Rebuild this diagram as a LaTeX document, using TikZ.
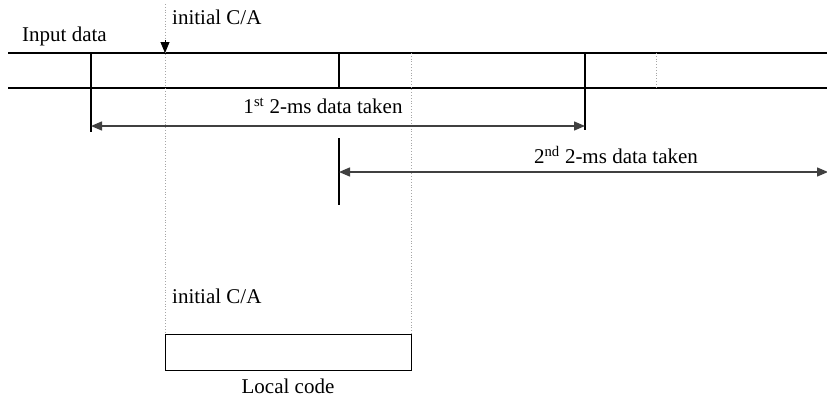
\documentclass[tikz,border=0pt]{standalone}
\usepackage{fontspec}
\setmainfont{Liberation Serif}
\usetikzlibrary{arrows.meta}
\begin{document}
\begin{tikzpicture}[x=1pt,y=-1pt,
  solidline/.style={line width=1.1pt, black},
  dotline/.style={line width=0.8pt, gray!70, dotted},
  arr/.style={line width=1.4pt, black!75, {Triangle[length=11pt,width=9pt]}-{Triangle[length=11pt,width=9pt]}},
  lbl/.style={inner sep=0pt, font=\fontsize{21}{24}\selectfont}]
\useasboundingbox (0,0) rectangle (827,397);
% main track
\coordinate (tl) at (8,53); \coordinate (tr) at (827,53);
\coordinate (bl) at (8,88); \coordinate (br) at (827,88);
\draw[solidline] (tl) -- (tr);
\draw[solidline] (bl) -- (br);
% boundaries
\coordinate (a1) at (91,53); \coordinate (a2) at (91,132);
\coordinate (b1) at (339,53); \coordinate (b2) at (339,88);
\coordinate (b3) at (339,138); \coordinate (b4) at (339,205);
\coordinate (c1) at (585,53); \coordinate (c2) at (585,130);
\draw[solidline] (a1) -- (a2);
\draw[solidline] (b1) -- (b2);
\draw[solidline] (b3) -- (b4);
\draw[solidline] (c1) -- (c2);
% dotted
\coordinate (d0) at (165,4); \coordinate (d1) at (165,53);
\coordinate (d2) at (165,334);
\coordinate (e1) at (411,53); \coordinate (e2) at (411,334);
\coordinate (f1) at (656,53); \coordinate (f2) at (656,88);
\draw[dotline] (d0) -- (d2);
\draw[line width=0.8pt, -{Triangle[length=11pt,width=9pt]}] (165,40) -- (d1);
\draw[dotline] (e1) -- (e2);
\draw[dotline] (f1) -- (f2);
% arrows
\coordinate (g1) at (91,126); \coordinate (g2) at (585,126);
\coordinate (h1) at (339,172); \coordinate (h2) at (827,172);
\draw[arr] (g1) -- (g2);
\draw[arr, shorten >=-1pt] (h1) -- (h2);
% box
\node[draw, line width=1.1pt, minimum width=246pt, minimum height=36pt, inner sep=0pt, anchor=north west] (box) at (165,334) {};
% labels
\node[lbl, anchor=west] (inp) at (22,36) {Input data};
\node[lbl, anchor=west] (ica) at (172,17) {initial C/A};
\node[lbl] (l1) at (323,106) {1\textsuperscript{st} 2-ms data taken};
\node[lbl] (l2) at (616,155) {2\textsuperscript{nd} 2-ms data taken};
\node[lbl, anchor=west] (ica2) at (172,296) {initial C/A};
\node[lbl] (lc) at (288,386) {Local code};
\end{tikzpicture}
\end{document}
